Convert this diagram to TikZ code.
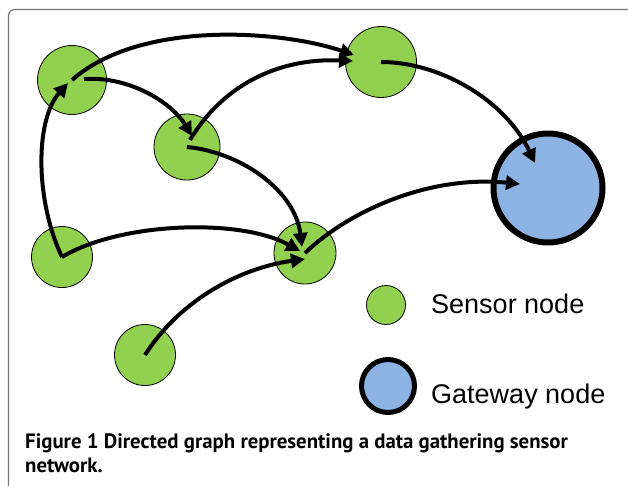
\documentclass[tikz,border=0pt]{standalone}
\usepackage{fontspec}
\setmainfont{Liberation Sans}
\newfontfamily\capfont{PT Sans}
\usetikzlibrary{arrows.meta}
\definecolor{sgreen}{HTML}{92D050}
\definecolor{gblue}{HTML}{8DB3E2}
\definecolor{framegray}{HTML}{777777}
\begin{document}
\begin{tikzpicture}[x=1pt,y=-1pt,
  sensor/.style={circle, draw=black, line width=0.8pt, fill=sgreen, inner sep=0pt},
  gateway/.style={circle, draw=black, line width=6pt, fill=gblue, inner sep=0pt},
  edge/.style={line width=4pt, -{Triangle[length=14pt,width=14pt]}},
  legtext/.style={anchor=base west, inner sep=0pt, font=\fontsize{27}{32}\selectfont},
  captext/.style={anchor=base west, inner sep=0pt, font=\capfont\bfseries\fontsize{20.8}{24}\selectfont}
  ]
\useasboundingbox (0,0) rectangle (628,485);
\begin{scope}
\clip (0,0) rectangle (628,485);
\draw[framegray, line width=1.2pt, rounded corners=6pt] (8.5,9.5) rectangle (660,520);
\end{scope}
% nodes
\node[sensor, minimum size=69pt] (A) at (72,80) {};
\node[sensor, minimum size=66pt] (B) at (187,147) {};
\node[sensor, minimum size=71pt] (C) at (381,62) {};
\node[sensor, minimum size=61pt] (D) at (62,257) {};
\node[sensor, minimum size=62pt] (E) at (305,253) {};
\node[sensor, minimum size=61pt] (F) at (145,355) {};
\node[gateway, minimum size=109pt] (G) at (548,188) {};
% edges
\draw[edge] (A.center) .. controls +(68,-60) and +(-74,-25) .. ([shift={(-27,-7)}]C.center);
\draw[edge] ([shift={(3,-7)}]B.center) .. controls +(36,-60) and +(-68,-3) .. ([shift={(-28,-1)}]C.center);
\draw[edge] ([shift={(12,-1)}]A.center) .. controls +(46,-3) and +(-20,-33) .. ([shift={(5,-11)}]B.center);
\draw[edge] (B.center) .. controls +(53,5) and +(-7,-57) .. ([shift={(-3,-6)}]E.center);
\draw[edge] (D.center) .. controls +(-27,-57) and +(-33,37) .. ([shift={(-4,3)}]A.center);
\draw[edge] (D.center) .. controls +(58,-35) and +(-60,-33) .. ([shift={(-5,-2)}]E.center);
\draw[edge] (F.center) .. controls +(35,-55) and +(-65,9) .. ([shift={(0,6)}]E.center);
\draw[edge] (E.center) .. controls +(45,-43) and +(-90,-9) .. ([shift={(-28,-4)}]G.center);
\draw[edge] (C.center) .. controls +(59,0) and +(-30,-63) .. ([shift={(-13,-25)}]G.center);
% legend
\node[sensor, minimum size=39pt] (L1) at (386,305) {};
\node[gateway, line width=5pt, minimum size=53pt] (L2) at (388,386) {};
\node[legtext] (T1) at (431,313) {Sensor node};
\node[legtext] (T2) at (431,403) {Gateway node};
% caption
\node[captext] (cap1) at (25,448) {Figure 1 Directed graph representing a data gathering sensor};
\node[captext] (cap2) at (25,472) {network.};
\end{tikzpicture}
\end{document}
